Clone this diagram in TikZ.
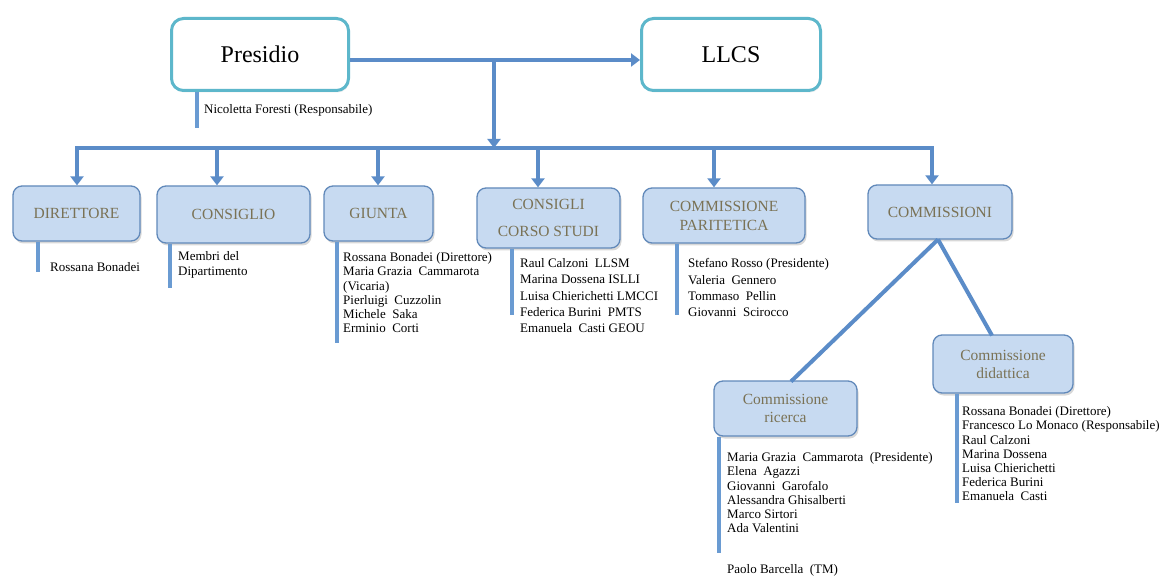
\documentclass[tikz,border=0pt]{standalone}
\usepackage{fontspec}
\setmainfont{Liberation Serif}
\usetikzlibrary{arrows.meta,shadows}
\definecolor{conn}{HTML}{5B8CC8}
\definecolor{stemc}{HTML}{6A9BD2}
\definecolor{topb}{HTML}{5DB7CB}
\definecolor{boxf}{HTML}{C7DAF1}
\definecolor{boxd}{HTML}{6189BA}
\definecolor{olive}{HTML}{7A7255}
\begin{document}
\begin{tikzpicture}[x=1pt,y=-1pt,
  topbox/.style={draw=topb,line width=3pt,rounded corners=12pt,fill=white,
    font=\fontsize{24}{28}\selectfont,inner sep=0pt,
    drop shadow={opacity=0.15,shadow xshift=1pt,shadow yshift=-2pt}},
  bluebox/.style={draw=boxd,line width=1.3pt,rounded corners=9pt,fill=boxf,
    text=olive,font=\fontsize{15.5}{18}\selectfont,align=center,inner sep=0pt,
    drop shadow={opacity=0.3,shadow xshift=1.5pt,shadow yshift=-2.5pt}},
  conn/.style={draw=conn,line width=4pt},
  tip/.style={-{Triangle[length=9pt,width=13pt]}},
  stem/.style={draw=stemc,line width=4pt},
  list/.style={anchor=north west,inner sep=0pt,align=left,font=\fontsize{13}{14.2}\selectfont},
  one/.style={anchor=west,inner sep=0pt,font=\fontsize{13}{14.2}\selectfont}]
\useasboundingbox (0,0) rectangle (1167,577);
\fill[white] (0,0) rectangle (1167,577);

% top level
\node[topbox,minimum width=177pt,minimum height=72pt] (pres) at (260,54.5) {Presidio};
\node[topbox,minimum width=179pt,minimum height=72pt] (llcs) at (731,54.5) {LLCS};
\coordinate (j) at (494,60);
\draw[conn,tip] (pres.east|-j) -- (llcs.west|-j);

% presidio member
\coordinate (ps) at (197,128);
\draw[stem] (ps|-pres.south) -- (ps);
\node[one] (nf) at (204,110) {Nicoletta Foresti (Responsabile)};

% second level boxes
\node[bluebox,minimum width=127pt,minimum height=55pt] (dir) at (76.5,213.5) {DIRETTORE};
\node[bluebox,minimum width=153pt,minimum height=57pt] (cons) at (233.5,214.5) {CONSIGLIO};
\node[bluebox,minimum width=109pt,minimum height=55pt] (giu) at (378.5,213.5) {GIUNTA};
\node[bluebox,minimum width=143pt,minimum height=60pt,font=\fontsize{15.5}{27}\selectfont] (ccs) at (548.5,218) {CONSIGLI\\CORSO STUDI};
\node[bluebox,minimum width=162pt,minimum height=55pt,font=\fontsize{15.5}{19}\selectfont] (par) at (724,215.5) {COMMISSIONE\\PARITETICA};
\node[bluebox,minimum width=144pt,minimum height=54pt] (comms) at (940,212) {COMMISSIONI};
\node[bluebox,minimum width=140pt,minimum height=58pt] (did) at (1003,364) {Commissione\\didattica};
\node[bluebox,minimum width=143pt,minimum height=55pt] (ric) at (785.5,408.5) {Commissione\\ricerca};

% bus
\coordinate (b1) at (77,148);
\coordinate (b2) at (217,148);
\coordinate (b3) at (378,148);
\coordinate (b4) at (538,148);
\coordinate (b5) at (714,148);
\coordinate (b6) at (932,148);
\draw[conn,{Triangle[length=9pt,width=13pt]}-{Triangle[length=9pt,width=13pt]}]
  (b1|-dir.north) -- (b1) -- (b6) -- (b6|-comms.north);
\draw[conn,tip] (b2) -- (b2|-cons.north);
\draw[conn,tip] (b3) -- (b3|-giu.north);
\draw[conn,tip] (b4) -- (b4|-ccs.north);
\draw[conn,tip] (b5) -- (b5|-par.north);
\draw[conn,tip] (j) -- (j|-b1);

% commissioni branches
\draw[conn] (938,239.5) -- (791,381.5);
\draw[conn] (938,239.5) -- (992,335.5);

% stems
\coordinate (s1) at (38,272);
\coordinate (s2) at (170,288);
\coordinate (s3) at (337,343);
\coordinate (s4) at (512,315);
\coordinate (s5) at (677,315);
\coordinate (s6) at (957,503);
\coordinate (s7) at (719,553);
\draw[stem] (s1|-dir.south) -- (s1);
\draw[stem] (s2|-cons.south) -- (s2);
\draw[stem] (s3|-giu.south) -- (s3);
\draw[stem] (s4|-ccs.south) -- (s4);
\draw[stem] (s5|-par.south) -- (s5);
\draw[stem] (s6|-did.south) -- (s6);
\draw[stem] (s7|-ric.south) -- (s7);

% member lists
\node[one] (l1) at (50,267) {Rossana Bonadei};
\node[list,font=\fontsize{13}{15}\selectfont] (l2) at (178,251.5) {Membri del\\Dipartimento};
\node[list] (l3) at (343,252.5) {Rossana Bonadei (Direttore)\\Maria Grazia\ \ Cammarota\\(Vicaria)\\Pierluigi\ \ Cuzzolin\\Michele\ \ Saka\\Erminio\ \ Corti};
\node[list,font=\fontsize{13}{16.2}\selectfont] (l4) at (520,258.5) {Raul Calzoni\ \ LLSM\\Marina Dossena ISLLI\\Luisa Chierichetti LMCCI\\Federica Burini\ \ PMTS\\Emanuela\ \ Casti GEOU};
\node[list,font=\fontsize{13}{16.2}\selectfont] (l5) at (688,258.5) {Stefano Rosso (Presidente)\\Valeria\ \ Gennero\\Tommaso\ \ Pellin\\Giovanni\ \ Scirocco};
\node[list] (l6) at (962,406.5) {Rossana Bonadei (Direttore)\\Francesco Lo Monaco (Responsabile)\\Raul Calzoni\\Marina Dossena\\Luisa Chierichetti\\Federica Burini\\Emanuela\ \ Casti};
\node[list] (l7) at (727,452.5) {Maria Grazia\ \ Cammarota\ \ (Presidente)\\Elena\ \ Agazzi\\Giovanni\ \ Garofalo\\Alessandra Ghisalberti\\Marco Sirtori\\Ada Valentini};
\node[one] (l8) at (727,570) {Paolo Barcella\ \ (TM)};
\end{tikzpicture}
\end{document}
